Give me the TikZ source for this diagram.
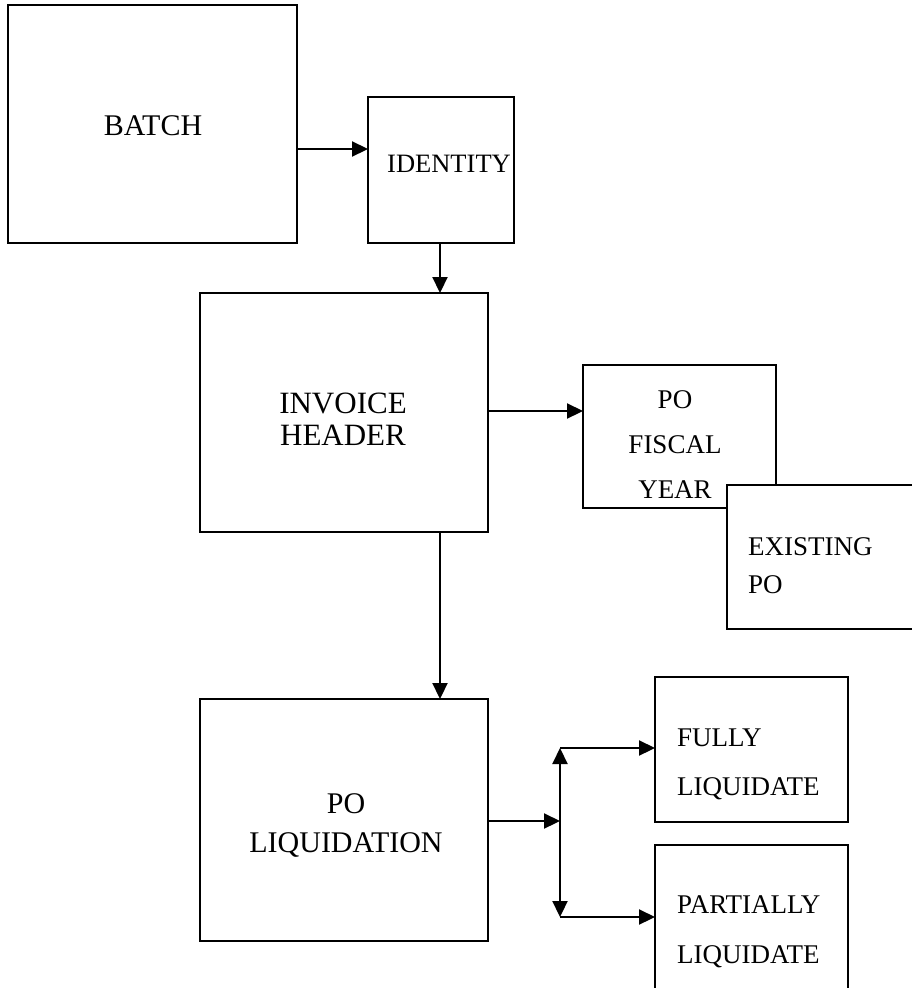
\documentclass[tikz,border=0pt]{standalone}
\usepackage{fontspec}
\setmainfont{Liberation Serif}
\usetikzlibrary{arrows.meta,positioning}
\tikzstyle{blockbox}=[shape=rectangle,draw=black,line width=2.2pt,fill=white,inner sep=0pt,outer sep=0pt]
\tikzstyle{bigtext}=[inner sep=0pt,font=\fontsize{30}{32}\selectfont]
\tikzstyle{smalltext}=[inner sep=0pt,font=\fontsize{27}{45}\selectfont]
\tikzstyle{flowedge}=[-{Triangle[length=16pt,width=15pt]},line width=2.2pt]

\begin{document}
\begin{tikzpicture}[x=1pt,y=-1pt]
\useasboundingbox (0,0) rectangle (912,988);

%boxes, top row
\node[blockbox,minimum width=289pt,minimum height=238pt] (batch) at (152.5,124){};
\node[bigtext,anchor=base] (tbatch) at (153,135){BATCH};
\node[blockbox,minimum width=146pt,minimum height=146pt] (identity) at (441,170){};
\node[smalltext,anchor=base west,font=\fontsize{26.5}{30}\selectfont] (tidentity) at (387,172){IDENTITY};

%invoice header and fiscal year
\node[blockbox,minimum width=288pt,minimum height=239pt] (invoice) at (344,412.5){};
\node[bigtext,anchor=base,align=center,font=\fontsize{31}{32}\selectfont] (tinvoice) at (343,445){INVOICE\\HEADER};
\node[blockbox,minimum width=193pt,minimum height=143pt] (fiscal) at (679.5,436.5){};
\node[smalltext,anchor=base,align=center] (tfiscal) at (675,498){PO\\FISCAL\\YEAR};
\node[blockbox,minimum width=220pt,minimum height=144pt] (existing) at (837,557){};
\node[smalltext,anchor=base west,align=left,font=\fontsize{27}{38}\selectfont] (texisting) at (748,593){EXISTING\\PO};

%liquidation
\node[blockbox,minimum width=288pt,minimum height=242pt] (liquid) at (344,820){};
\node[bigtext,anchor=base,align=center,font=\fontsize{30}{39}\selectfont] (tliquid) at (346,852){PO\\LIQUIDATION};
\node[blockbox,minimum width=193pt,minimum height=145pt] (fully) at (751.5,749.5){};
\node[smalltext,anchor=base west,align=left,font=\fontsize{27}{49}\selectfont] (tfully) at (677,795){FULLY\\LIQUIDATE};
\node[blockbox,minimum width=193pt,minimum height=170pt] (partial) at (751.5,930){};
\node[smalltext,anchor=base west,align=left,font=\fontsize{27}{50}\selectfont] (tpartial) at (677,963){PARTIALLY\\LIQUIDATE};

\coordinate (split) at (560,821);
\coordinate (splittop) at (560,748);
\coordinate (splitbot) at (560,917);

 \path
(batch.east |- 0,149) edge [flowedge] (identity.west |- 0,149)
(identity.south -| 440,0) edge [flowedge] (invoice.north -| 440,0)
(invoice.east |- 0,411) edge [flowedge] (fiscal.west |- 0,411)
(invoice.south -| 440,0) edge [flowedge] (liquid.north -| 440,0)
(liquid.east |- split) edge [flowedge] (split)
(split) edge [flowedge] (splittop)
(split) edge [flowedge] (splitbot)
(splittop) edge [flowedge] (fully.west |- splittop)
(splitbot) edge [flowedge] (partial.west |- splitbot)
;

\end{tikzpicture}
\end{document}
